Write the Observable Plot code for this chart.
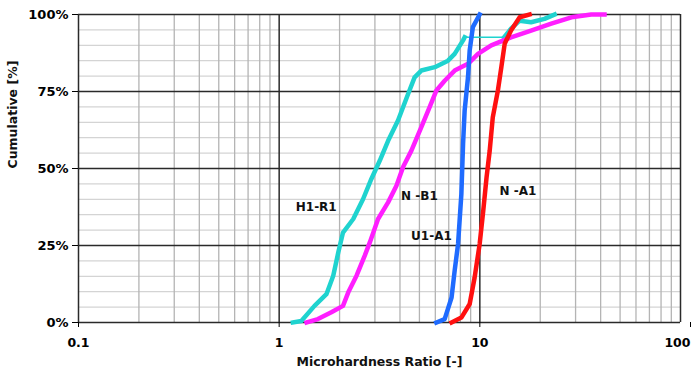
<!DOCTYPE html>
<html>
<head>
<meta charset="utf-8">
<script src="https://cdn.jsdelivr.net/npm/d3@7"></script>
<script src="https://cdn.jsdelivr.net/npm/@observablehq/plot@0.6"></script>
<style>
  html, body { margin: 0; padding: 0; background: #fff; }
  #chart { width: 692px; height: 374px; }
</style>
</head>
<body>
<div id="chart"></div>
<script>
// ---- data ----
const seriesNames = ["H1-R1", "N-B1", "U1-A1", "N-A1"];
const seriesColors = ["#1fd3cf", "#ff1eff", "#1f6bff", "#ff1010"];

const h1r1X = [1.17, 1.29, 1.50, 1.72, 1.86, 1.97, 2.08, 2.34, 2.62, 2.88, 3.17, 3.49, 3.91, 4.39, 4.73, 5.11, 5.96, 6.94, 7.49, 8.25, 8.40, 13.2, 14.3, 15.8, 18.0, 21.0, 23.6];
const h1r1Y = [0, 0.5, 5.4, 9.2, 15.2, 22.7, 29.2, 33.6, 40.1, 46.6, 52.5, 59.0, 65.6, 74.2, 79.6, 81.8, 82.9, 85.0, 87.2, 91.6, 92.6, 92.6, 95.4, 98.0, 97.5, 98.6, 100];

const nb1X = [1.37, 1.56, 1.82, 2.08, 2.21, 2.43, 2.67, 2.83, 3.11, 3.49, 3.84, 4.15, 4.56, 5.11, 5.62, 6.07, 6.68, 7.49, 8.73, 9.79, 11.4, 14.3, 18.0, 22.7, 28.6, 35.9, 41.8];
const nb1Y = [0, 1.1, 3.3, 5.4, 9.8, 15.2, 21.7, 26.0, 33.6, 39.0, 44.4, 50.6, 55.8, 63.4, 69.9, 75.3, 78.5, 81.8, 84.0, 87.2, 90.0, 92.6, 94.8, 97.0, 99.1, 100, 100];

const u1a1X = [6.07, 6.68, 7.23, 7.49, 7.79, 8.09, 8.25, 8.40, 8.73, 8.90, 9.23, 9.98];
const u1a1Y = [0, 1.1, 8.1, 16.8, 25.5, 41.7, 58.0, 68.8, 79.6, 88.3, 95.9, 100];

const na1X = [7.23, 8.09, 8.90, 9.42, 9.98, 10.4, 10.8, 11.2, 11.6, 12.3, 12.8, 13.3, 14.3, 15.8, 17.7];
const na1Y = [0, 1.6, 6.0, 14.6, 25.5, 36.3, 47.1, 55.8, 66.6, 75.3, 82.9, 90.5, 94.8, 99.1, 100];

// curve labels (data units)
const labelX = [1.53, 5.0, 5.74, 15.5];
const labelY = [37.3, 40.9, 27.9, 42.8];
const labelText = ["H1-R1", "N -B1", "U1-A1", "N -A1"];

// axes
const xTicks = [0.1, 1, 10, 100];
const yTicks = [0, 25, 50, 75, 100];
const xTitle = "Microhardness Ratio [-]";
const yTitle = "Cumulative [%]";

// ---- build tables ----
const allX = [h1r1X, nb1X, u1a1X, na1X];
const allY = [h1r1Y, nb1Y, u1a1Y, na1Y];

const points = [];
const thickRuns = [];
seriesNames.forEach((name, s) => {
  let run = 0;
  allX[s].forEach((x, i) => {
    points.push({series: name, x, y: allY[s][i]});
    if (i > 0 && Math.log10(x / allX[s][i - 1]) > 0.15) run++;
    thickRuns.push({series: name, run: name + "-" + run, x, y: allY[s][i]});
  });
});

const labels = labelText.map((t, i) => ({t, x: labelX[i], y: labelY[i]}));

const minorX = [];
[0.1, 1, 10].forEach(d => d3.range(2, 10).forEach(k => minorX.push(+(d * k).toPrecision(3))));
const minorY = d3.range(5, 100, 5).filter(v => v % 25 !== 0);

const color = {domain: seriesNames, range: seriesColors};
const lastTick = xTicks[xTicks.length - 1];

const chart = Plot.plot({
  width: 692,
  height: 374,
  marginLeft: 78,
  marginRight: 12,
  marginTop: 14,
  marginBottom: 52,
  style: {fontFamily: "'DejaVu Sans', sans-serif", fontSize: "12px", fontWeight: "bold", background: "#fff", color: "#000"},
  x: {type: "log", domain: [0.1, 100]},
  y: {domain: [0, 100]},
  color,
  marks: [
    Plot.ruleY(minorY, {stroke: "#d4d4d4", strokeWidth: 1.3}),
    Plot.ruleX(minorX, {stroke: "#b4b4b4", strokeWidth: 1.3}),
    Plot.ruleY(yTicks, {stroke: "#2a2a2a", strokeWidth: 1.5}),
    Plot.ruleX(xTicks, {stroke: "#2a2a2a", strokeWidth: 1.5}),
    Plot.axisX(xTicks.slice(0, -1), {tickSize: 5, tickPadding: 11, tickFormat: d => String(d), label: null, fontWeight: "bold", fontSize: 12.5}),
    Plot.axisX([lastTick], {tickSize: 5, tickPadding: 11, tickFormat: d => String(d), label: null, fontWeight: "bold", fontSize: 12.5, textAnchor: "end", dx: 10}),
    Plot.axisY(yTicks, {tickSize: 6, tickPadding: 4, tickFormat: d => d + "%", label: null, fontWeight: "bold", fontSize: 13}),
    Plot.line(points, {x: "x", y: "y", z: "series", stroke: "series", strokeWidth: 1.6}),
    Plot.line(thickRuns, {x: "x", y: "y", z: "run", stroke: "series", strokeWidth: 4.5, strokeLinejoin: "round", strokeLinecap: "square"}),
    Plot.text(labels, {x: "x", y: "y", text: "t", fontWeight: "bold", fontSize: 12, fill: "#111"}),
    Plot.text([xTitle], {frameAnchor: "bottom", dy: 43, fontWeight: "bold", fontSize: 12.5, fill: "#111"}),
    Plot.text([yTitle], {frameAnchor: "left", dx: -66, rotate: -90, fontWeight: "bold", fontSize: 12.5, fill: "#111"})
  ]
});

document.getElementById("chart").appendChild(chart);
</script>
</body>
</html>
